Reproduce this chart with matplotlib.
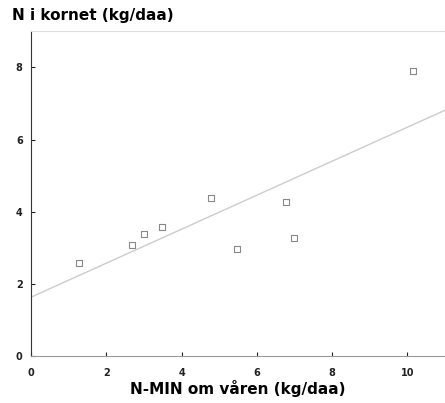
import matplotlib
matplotlib.use("Agg")
import matplotlib.pyplot as plt
import numpy as np

# N-MIN in spring vs N in grain
nmin_spring = [1.28, 2.69, 2.99, 3.49, 4.78, 5.48, 6.78, 7.00, 10.14]
n_grain = [2.58, 3.08, 3.38, 3.59, 4.39, 2.97, 4.28, 3.27, 7.90]

# regression line as drawn
intercept = 1.64
slope = 0.47

x_ticks = [0, 2, 4, 6, 8, 10]
y_ticks = [0, 2, 4, 6, 8]

plt.rcParams["font.family"] = ["DejaVu Sans"]

fig = plt.figure(figsize=(4.45, 4.03), dpi=100)
ax = fig.add_axes([0.0697, 0.1154, 0.9303, 0.8076])

xl = np.array([0, 11])
ax.plot(xl, intercept + slope * xl, color="#cccccc", lw=1.0, zorder=1)
ax.scatter(nmin_spring, n_grain, marker="s", s=24, facecolors="white",
           edgecolors="#888888", linewidths=0.8, zorder=3)

ax.set_xlim(0, 11)
ax.set_ylim(0, 9)
ax.set_xticks(x_ticks)
ax.set_yticks(y_ticks)
ax.tick_params(direction="in", length=3, width=0.8, labelsize=7, colors="#222222")
ax.tick_params(axis="x", pad=8)
ax.tick_params(axis="y", pad=6)
for lab in ax.get_xticklabels() + ax.get_yticklabels():
    lab.set_fontweight("bold")

ax.spines["left"].set_color("#333333")
ax.spines["bottom"].set_color("#999999")
ax.spines["top"].set_color("#dddddd")
ax.spines["right"].set_color("#dddddd")

ax.set_xlabel("N-MIN om våren (kg/daa)", fontsize=11, fontweight="bold", labelpad=2)
fig.text(0.027, 0.962, "N i kornet (kg/daa)", fontsize=11, fontweight="bold",
         ha="left", va="center")

fig.savefig("out.png", dpi=100)
